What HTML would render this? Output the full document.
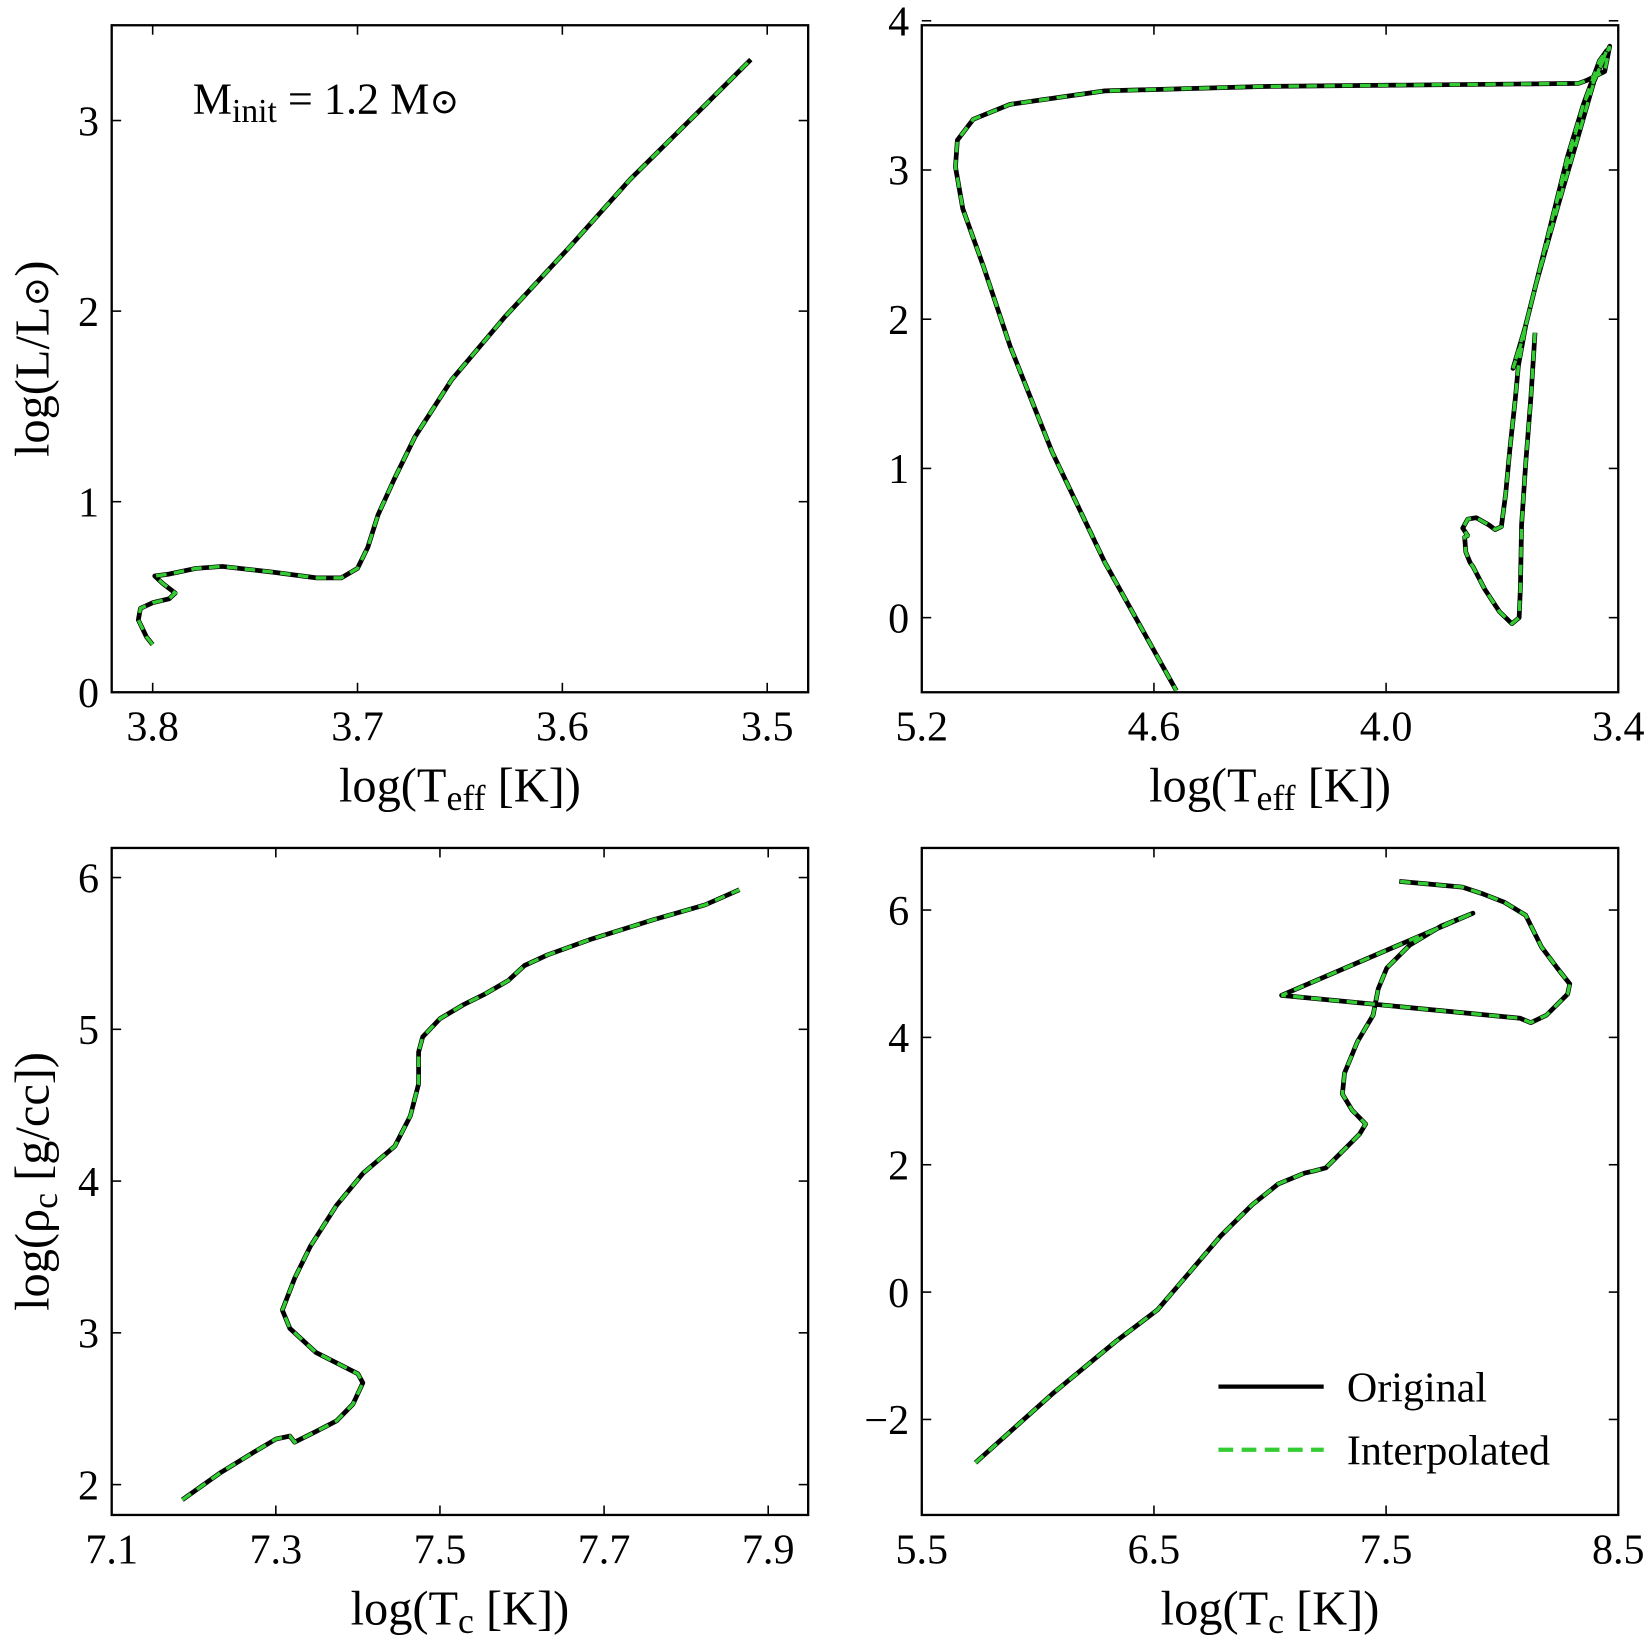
<!DOCTYPE html>
<html><head><meta charset="utf-8"><style>
html,body{margin:0;padding:0;background:#fff}
svg{display:block}
text{font-family:"Liberation Serif","DejaVu Serif",serif;fill:#000}
</style></head><body>
<svg id="fig" width="1650" height="1637" viewBox="0 0 1568 1556" xmlns="http://www.w3.org/2000/svg">
<text x="183" y="108" font-size="42">M<tspan font-size="32" dy="8">init</tspan><tspan dy="-8"> = 1.2 M</tspan><tspan font-size="34">⊙</tspan></text>
<g>
<line x1="1158" y1="1318" x2="1258" y2="1318" stroke="#000" stroke-width="4"/>
<text x="1280" y="1332" font-size="40">Original</text>
<line x1="1158" y1="1378" x2="1258" y2="1378" stroke="#33cc33" stroke-width="4" stroke-dasharray="14,8"/>
<text x="1280" y="1392" font-size="40">Interpolated</text>
</g>
</svg>
<script>
// Panel 1: HR diagram
const p1X=[3.8,3.803,3.807,3.806,3.8,3.792,3.789,3.795,3.799,3.792,3.779,3.766,3.741,3.72,3.708,3.7,3.695,3.69,3.682,3.672,3.654,3.628,3.597,3.567,3.536,3.508];
const p1Y=[0.25,0.29,0.38,0.44,0.47,0.49,0.52,0.57,0.61,0.62,0.65,0.66,0.63,0.6,0.6,0.65,0.76,0.93,1.12,1.34,1.64,1.97,2.33,2.69,3.02,3.32];
const p1XTicks=[3.8,3.7,3.6,3.5];
const p1YTicks=[0,1,2,3];
// Panel 2: full HR track
const p2X=[3.615,3.626,3.639,3.65,3.653,3.656,3.675,3.707,3.745,3.775,3.783,3.794,3.797,3.789,3.802,3.789,3.767,3.734,3.718,3.702,3.691,3.68,3.666,3.658,3.639,3.612,3.571,3.531,3.49,3.449,3.43,3.463,3.503,3.558,3.612,3.653,3.672,3.639,3.571,3.49,3.422,3.435,3.482,3.503,4.319,4.727,4.972,5.067,5.108,5.113,5.094,5.04,4.972,4.863,4.727,4.542];
const p2Y=[1.91,1.47,1.04,0.62,0.2,0,-0.04,0.04,0.19,0.34,0.37,0.44,0.54,0.55,0.6,0.66,0.67,0.62,0.59,0.61,0.83,1.13,1.47,1.69,1.96,2.24,2.67,3.09,3.44,3.73,3.8,3.59,3.23,2.74,2.24,1.82,1.67,1.96,2.67,3.44,3.83,3.66,3.6,3.58,3.56,3.53,3.44,3.34,3.2,3.02,2.74,2.35,1.82,1.11,0.37,-0.49];
const p2XTicks=[5.2,4.6,4.0,3.4];
const p2XLabels=["5.2","4.6","4.0","3.4"];
const p2YTicks=[0,1,2,3,4];
// Panel 3: central density vs temperature
const p3X=[7.186,7.233,7.272,7.3,7.317,7.323,7.349,7.374,7.394,7.406,7.4,7.349,7.317,7.308,7.323,7.342,7.374,7.406,7.445,7.464,7.474,7.474,7.479,7.5,7.528,7.554,7.583,7.603,7.631,7.682,7.759,7.823,7.865];
const p3Y=[1.9,2.08,2.21,2.3,2.32,2.28,2.35,2.42,2.53,2.67,2.73,2.87,3.03,3.15,3.36,3.57,3.84,4.05,4.23,4.43,4.64,4.85,4.95,5.07,5.16,5.23,5.32,5.42,5.49,5.59,5.72,5.82,5.92];
const p3XTicks=[7.1,7.3,7.5,7.7,7.9];
const p3YTicks=[2,3,4,5,6];
// Panel 4: full central track
const p4X=[5.731,6.062,6.334,6.515,6.651,6.787,6.923,7.036,7.149,7.186,7.24,7.331,7.385,7.412,7.353,7.312,7.321,7.376,7.444,7.466,7.503,7.602,7.738,7.874,7.05,8.078,8.123,8.191,8.282,8.291,8.237,8.169,8.101,8.01,7.92,7.829,7.557];
const p4Y=[-2.68,-1.6,-0.78,-0.28,0.3,0.88,1.37,1.7,1.87,1.9,1.95,2.28,2.48,2.64,2.86,3.11,3.44,3.93,4.35,4.76,5.09,5.45,5.75,5.95,4.66,4.3,4.23,4.35,4.68,4.84,5.09,5.42,5.92,6.12,6.25,6.36,6.45];
const p4XTicks=[5.5,6.5,7.5,8.5];
const p4YTicks=[-2,0,2,4,6];

const NS="http://www.w3.org/2000/svg";
const svg=document.getElementById('fig');
function mk(tag,attrs,parent){const e=document.createElementNS(NS,tag);for(const k in attrs)e.setAttribute(k,attrs[k]);(parent||svg).appendChild(e);return e;}
function fmtTick(v){return v<0?'\u2212'+Math.abs(v):String(v);}

function panel(id,box,xd,yd,xs,ys,xticks,xlabels,yticks,xlabelHTML,ylabelHTML){
  const g=mk('g',{});
  
  
  const sx=v=>box.l+(v-xd[0])/(xd[1]-xd[0])*(box.r-box.l);
  const sy=v=>box.b-(v-yd[0])/(yd[1]-yd[0])*(box.b-box.t);
  let d='';
  const n=Math.min(xs.length,ys.length);
  for(let i=0;i<n;i++)d+=(i?'L':'M')+sx(xs[i]).toFixed(1)+','+sy(ys[i]).toFixed(1);
  const cp=mk('clipPath',{id:id+'-clip'},g);mk('rect',{x:box.l,y:box.t,width:box.r-box.l,height:box.b-box.t},cp);
  const orig=mk('path',{d:d,fill:'none',stroke:'#000','stroke-width':4.5,'stroke-linejoin':'round','clip-path':'url(#'+id+'-clip)'},g);
  
  
  const interp=mk('path',{d:d,fill:'none',stroke:'#33cc33','stroke-width':3.2,'stroke-dasharray':'10,7','clip-path':'url(#'+id+'-clip)'},g);
  
  
  const frame=mk('rect',{x:box.l,y:box.t,width:box.r-box.l,height:box.b-box.t,fill:'none',stroke:'#000','stroke-width':2.2},g);
  
  
  xticks.forEach((v,i)=>{
    const x=sx(v);
    mk('line',{x1:x,y1:box.b,x2:x,y2:box.b-9,stroke:'#000','stroke-width':1.5},g);
    mk('line',{x1:x,y1:box.t,x2:x,y2:box.t+9,stroke:'#000','stroke-width':1.5},g);
    const t=mk('text',{x:x,y:box.b+46,'font-size':40,'text-anchor':'middle'},g);
    
    
    t.textContent=xlabels?xlabels[i]:fmtTick(v);
  });
  yticks.forEach(v=>{
    const y=sy(v);
    mk('line',{x1:box.l,y1:y,x2:box.l+9,y2:y,stroke:'#000','stroke-width':1.5},g);
    mk('line',{x1:box.r,y1:y,x2:box.r-9,y2:y,stroke:'#000','stroke-width':1.5},g);
    const t=mk('text',{x:box.l-12,y:y+14,'font-size':40,'text-anchor':'end'},g);
    
    
    t.textContent=fmtTick(v);
  });
  const xl=mk('text',{x:(box.l+box.r)/2,y:box.b+104,'font-size':46,'text-anchor':'middle'},g);
  
  
  xl.innerHTML=xlabelHTML;
  if(ylabelHTML){
    const cy=(box.t+box.b)/2;
    const yl=mk('text',{x:0,y:0,'font-size':46,'text-anchor':'middle',transform:'translate(46,'+cy+') rotate(-90)'},g);
    
    
    yl.innerHTML=ylabelHTML;
  }
}
const teff='log(T<tspan font-size="34" dy="8">eff</tspan><tspan dy="-8"> [K])</tspan>';
const tc='log(T<tspan font-size="34" dy="8">c</tspan><tspan dy="-8"> [K])</tspan>';
panel('hr-panel-zoom',{l:106,r:768,t:24,b:658},[3.82,3.48],[0,3.5],p1X,p1Y,p1XTicks,null,p1YTicks,teff,'log(L/L<tspan font-size="34">⊙</tspan>)');
panel('hr-panel-full',{l:876,r:1538,t:24,b:658},[5.2,3.4],[-0.5,3.97],p2X,p2Y,p2XTicks,p2XLabels,p2YTicks,teff,null);
panel('core-panel-zoom',{l:106,r:768,t:806,b:1440},[7.1,7.9487],[1.8,6.195],p3X,p3Y,p3XTicks,null,p3YTicks,tc,'log(ρ<tspan font-size="34" dy="8">c</tspan><tspan dy="-8"> [g/cc])</tspan>');
panel('core-panel-full',{l:876,r:1538,t:806,b:1440},[5.5,8.5],[-3.5,6.975],p4X,p4Y,p4XTicks,null,p4YTicks,tc,null);
</script>
</body></html>
